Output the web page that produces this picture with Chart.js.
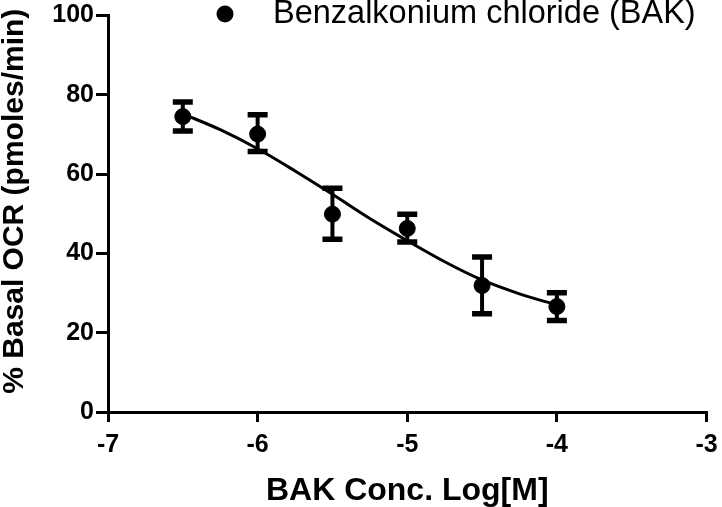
<!DOCTYPE html>
<html lang="en">
<head>
    <meta charset="UTF-8">
    <title>BAK dose response</title>
    <script src="https://cdn.jsdelivr.net/npm/chart.js"></script>
    <style>
        html, body {
            margin: 0;
            padding: 0;
            background: #fff;
        }
        #wrap {
            width: 722px;
            height: 507px;
        }
    </style>
</head>
<body>
    <div id="wrap"><canvas id="ocrChart"></canvas></div>

    <script>
        // log concentrations and mean +/- error
        const concLog = [-6.5, -6, -5.5, -5, -4.5, -4];
        const meanOcr = [74.5, 70.1, 49.9, 46.3, 31.9, 26.6];
        const errLow = [70.9, 65.7, 43.6, 42.9, 24.8, 23.1];
        const errHigh = [78.2, 75.0, 56.4, 49.9, 39.1, 30.1];

        // fitted curve, read at a few places along the line
        const fitX = [-6.5, -6.25, -6, -5.75, -5.5, -5.25, -5, -4.75, -4.5, -4.25, -4];
        const fitY = [75.2, 71.2, 66.4, 60.8, 54.9, 48.8, 43.2, 37.9, 33.3, 29.8, 27.0];

        const xTicks = [-7, -6, -5, -4, -3];
        const yTicks = [0, 20, 40, 60, 80, 100];
        const legendLabel = 'Benzalkonium chloride (BAK)';

        const FONT = "'Liberation Sans', Arial, sans-serif";

        const errorBarSets = concLog.map((x, i) => ({
            type: 'line',
            data: [{ x: x, y: errLow[i] }, { x: x, y: errHigh[i] }],
            borderColor: '#000',
            borderWidth: 4,
            pointStyle: 'line',
            pointRadius: 10,
            pointBorderWidth: 5.5,
            pointBorderColor: '#000',
            pointBackgroundColor: '#000',
            fill: false
        }));

        // legend drawn by hand, it sits inside the plot area at the top
        const legendPlugin = {
            id: 'topLegend',
            afterDraw(chart) {
                const ctx = chart.ctx;
                ctx.save();
                ctx.fillStyle = '#000';
                ctx.beginPath();
                ctx.arc(225, 14, 8.5, 0, Math.PI * 2);
                ctx.fill();
                ctx.font = '32.5px ' + FONT;
                ctx.textBaseline = 'middle';
                ctx.textAlign = 'left';
                ctx.fillText(legendLabel, 273, 14);
                ctx.restore();
            }
        };

        const ctx = document.getElementById('ocrChart').getContext('2d');
        new Chart(ctx, {
            type: 'scatter',
            data: {
                datasets: [
                    {
                        label: legendLabel,
                        data: concLog.map((x, i) => ({ x: x, y: meanOcr[i] })),
                        pointRadius: 8,
                        pointBackgroundColor: '#000',
                        pointBorderColor: '#000',
                        pointBorderWidth: 1
                    },
                    {
                        type: 'line',
                        label: 'fit',
                        data: fitX.map((x, i) => ({ x: x, y: fitY[i] })),
                        borderColor: '#000',
                        borderWidth: 3,
                        pointRadius: 0,
                        cubicInterpolationMode: 'monotone',
                        fill: false
                    }
                ].concat(errorBarSets)
            },
            options: {
                responsive: true,
                maintainAspectRatio: false,
                animation: false,
                events: [],
                layout: {
                    padding: { top: 11, right: 14, left: 0, bottom: 0 }
                },
                plugins: {
                    legend: { display: false },
                    tooltip: { enabled: false }
                },
                scales: {
                    x: {
                        type: 'linear',
                        min: -7,
                        max: -3,
                        afterBuildTicks: s => { s.ticks = xTicks.map(v => ({ value: v })); },
                        afterFit: s => {
                            s.height = 95;
                            s.paddingLeft = 0;
                            s.paddingRight = 0;
                        },
                        border: { display: true, color: '#000', width: 3 },
                        grid: {
                            drawOnChartArea: false,
                            drawTicks: true,
                            tickLength: 10,
                            lineWidth: 3,
                            color: '#000'
                        },
                        ticks: {
                            color: '#000',
                            padding: 8,
                            font: { family: FONT, size: 25, weight: 'bold' }
                        },
                        title: {
                            display: true,
                            text: 'BAK Conc. Log[M]',
                            color: '#000',
                            padding: { top: 5, bottom: 0 },
                            font: { family: FONT, size: 32, weight: 'bold', lineHeight: 1 }
                        }
                    },
                    y: {
                        type: 'linear',
                        min: 0,
                        max: 100,
                        afterBuildTicks: s => { s.ticks = yTicks.map(v => ({ value: v })); },
                        afterFit: s => {
                            s.width = 108;
                            s.paddingTop = 0;
                            s.paddingBottom = 0;
                        },
                        border: { display: true, color: '#000', width: 3 },
                        grid: {
                            drawOnChartArea: false,
                            drawTicks: true,
                            tickLength: 12,
                            lineWidth: 3,
                            color: '#000'
                        },
                        ticks: {
                            color: '#000',
                            padding: 2,
                            font: { family: FONT, size: 25, weight: 'bold' }
                        },
                        title: {
                            display: true,
                            text: '   % Basal OCR (pmoles/min)',
                            color: '#000',
                            padding: 0,
                            font: { family: FONT, size: 30, weight: 'bold', lineHeight: 1 }
                        }
                    }
                }
            },
            plugins: [legendPlugin]
        });
    </script>
</body>
</html>
